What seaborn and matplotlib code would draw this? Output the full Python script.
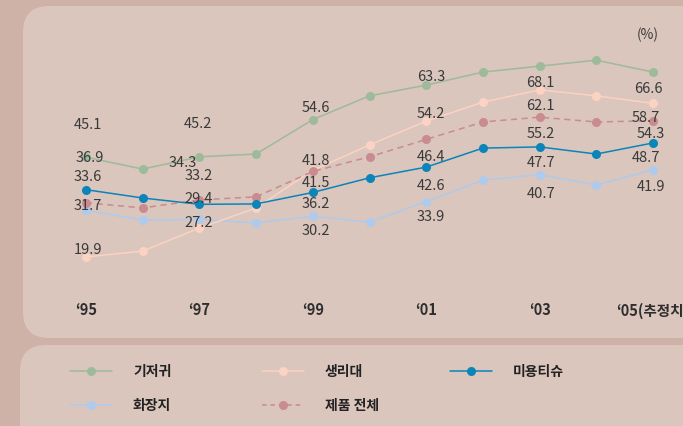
import matplotlib
matplotlib.use("Agg")
import matplotlib.pyplot as plt
from matplotlib.patches import FancyBboxPatch
from matplotlib.lines import Line2D
from matplotlib.transforms import IdentityTransform
import seaborn as sns
import pandas as pd

# ---------------- data ----------------
years = [1995, 1996, 1997, 1998, 1999, 2000, 2001, 2002, 2003, 2004, 2005]
tick_years = [1995, 1997, 1999, 2001, 2003, 2005]
tick_labels = ["\u201895", "\u201897", "\u201899", "\u201801", "\u201803", "\u201805(추정치)"]

series_names = ["기저귀", "생리대", "미용티슈", "화장지", "제품 전체"]
diaper = [45.1, 42.1, 45.2, 45.9, 54.6, 60.6, 63.3, 66.6, 68.1, 69.6, 66.6]
napkin = [19.9, 21.4, 27.2, 32.3, 41.8, 48.2, 54.2, 59.0, 62.1, 60.6, 58.7]
facial = [36.9, 34.8, 33.2, 33.3, 36.2, 39.9, 42.6, 47.4, 47.7, 45.9, 48.7]
toilet = [31.7, 29.2, 29.4, 28.5, 30.2, 28.7, 33.9, 39.3, 40.7, 38.1, 41.9]
total = [33.6, 32.3, 34.3, 35.1, 41.5, 45.2, 49.6, 54.0, 55.2, 54.0, 54.3]

# labelled values at the odd years
diaper_lbl = [45.1, 45.2, 54.6, 63.3, 68.1, 66.6]
napkin_lbl = [19.9, 27.2, 41.8, 54.2, 62.1, 58.7]
facial_lbl = [36.9, 33.2, 36.2, 42.6, 47.7, 48.7]
toilet_lbl = [31.7, 29.4, 30.2, 33.9, 40.7, 41.9]
total_lbl = [33.6, 34.3, 41.5, 46.4, 55.2, 54.3]

# ---------------- style ----------------
OUTER = "#ceb1a7"
PANEL = "#dac6bd"
colors = {"기저귀": "#9dba9b", "생리대": "#fcd2c2", "미용티슈": "#0a84b9",
          "화장지": "#aecaec", "제품 전체": "#c98a90"}
FONT = ["Noto Sans CJK KR", "DejaVu Sans"]

sns.set_theme(style="white")
plt.rcParams["font.family"] = FONT

W, H = 683, 427
fig = plt.figure(figsize=(W / 100, H / 100), dpi=100)
fig.patch.set_facecolor(OUTER)

ident = IdentityTransform()
fig.patches.append(FancyBboxPatch((23, H - 339), 720, 332,
                                  boxstyle="round,pad=0,rounding_size=26",
                                  transform=ident, facecolor=PANEL, edgecolor="none", zorder=-5))
fig.patches.append(FancyBboxPatch((20, -40), 720, H - 346 + 40,
                                  boxstyle="round,pad=0,rounding_size=26",
                                  transform=ident, facecolor=PANEL, edgecolor="none", zorder=-5))

ax = fig.add_axes([0, 1 - 290 / H, 1, 270 / H])
ax.set_facecolor("none")
ax.set_zorder(1)

rows = []
for name, vals in zip(series_names, [diaper, napkin, facial, toilet, total]):
    for y, v in zip(years, vals):
        rows.append({"year": y, "value": v, "series": name})
df = pd.DataFrame(rows)

order_z = {"화장지": 2, "생리대": 3, "제품 전체": 4, "미용티슈": 5, "기저귀": 6}
for name in ["화장지", "생리대", "제품 전체", "미용티슈", "기저귀"]:
    sub = df[df["series"] == name]
    sns.lineplot(data=sub, x="year", y="value", ax=ax, color=colors[name],
                 linewidth=1.1, marker="o", markersize=6.5, markeredgewidth=0,
                 linestyle=(0, (4, 3)) if name == "제품 전체" else "-",
                 zorder=order_z[name], legend=False)

ax.set_xlim(1993.483, 2005.529)
ax.set_ylim(11.82, 80.0)
ax.set_xticks(tick_years)
ax.set_xticklabels(tick_labels, fontsize=10.5, color="#2e2e2e", family=FONT,
                   fontweight="bold")
ax.tick_params(axis="x", length=0, pad=9)
for lbl in ax.get_xticklabels()[:-1]:
    lbl.set_x(lbl.get_position()[0])
ax.set_yticks([])
ax.set_xlabel("")
ax.set_ylabel("")
for s in ax.spines.values():
    s.set_visible(False)

# value labels (pixel offsets from the points)
label_sets = {
    "기저귀": (diaper_lbl, diaper, [(2, -33), (-1, -34), (3, -13), (5, -9), (1, 16), (-5, 16)]),
    "생리대": (napkin_lbl, napkin, [(2, -8), (-1, -6), (3, -10), (5, -8), (1, 15), (-7, 14)]),
    "미용티슈": (facial_lbl, facial, [(4, -33), (-1, -29), (3, 11), (5, 18), (1, 15), (-7, 14)]),
    "화장지": (toilet_lbl, toilet, [(2, -5), (-1, -21), (3, 14), (5, 14), (1, 18), (-2, 16)]),
    "제품 전체": (total_lbl, total, [(2, -27), (-17, -38), (3, 11), (5, 17), (1, 16), (-2, 12)]),
}
for name, (lbls, vals, offs) in label_sets.items():
    for ty, lv, (dx, dy) in zip(tick_years, lbls, offs):
        v = vals[years.index(ty)]
        ax.annotate(f"{lv:.1f}", (ty, v), xytext=(dx, -dy), textcoords="offset pixels",
                    ha="center", va="center", fontsize=10.5, color="#3a3a3a",
                    family=FONT, zorder=10)

fig.text(648 / W, 1 - 35 / H, "(%)", ha="center", va="center", fontsize=10,
         color="#3a3a3a", family=FONT)

# legend (manual)
legend_items = [("기저귀", 70, 372), ("생리대", 262, 372), ("미용티슈", 450, 372),
                ("화장지", 70, 406), ("제품 전체", 262, 406)]
for name, x0, yy in legend_items:
    yf = 1 - yy / H
    ls = (0, (3, 2.5)) if name == "제품 전체" else "-"
    fig.add_artist(Line2D([x0 / W, (x0 + 42) / W], [yf, yf], transform=fig.transFigure,
                          color=colors[name], linewidth=1.1, linestyle=ls))
    fig.add_artist(Line2D([(x0 + 21) / W], [yf], transform=fig.transFigure,
                          color=colors[name], marker="o", markersize=6.5, markeredgewidth=0))
    fig.text((x0 + 63) / W, yf, name, ha="left", va="center", fontsize=10,
             color="#222222", family=FONT, fontweight="bold")

fig.savefig("out.png", dpi=100, facecolor=fig.get_facecolor())
